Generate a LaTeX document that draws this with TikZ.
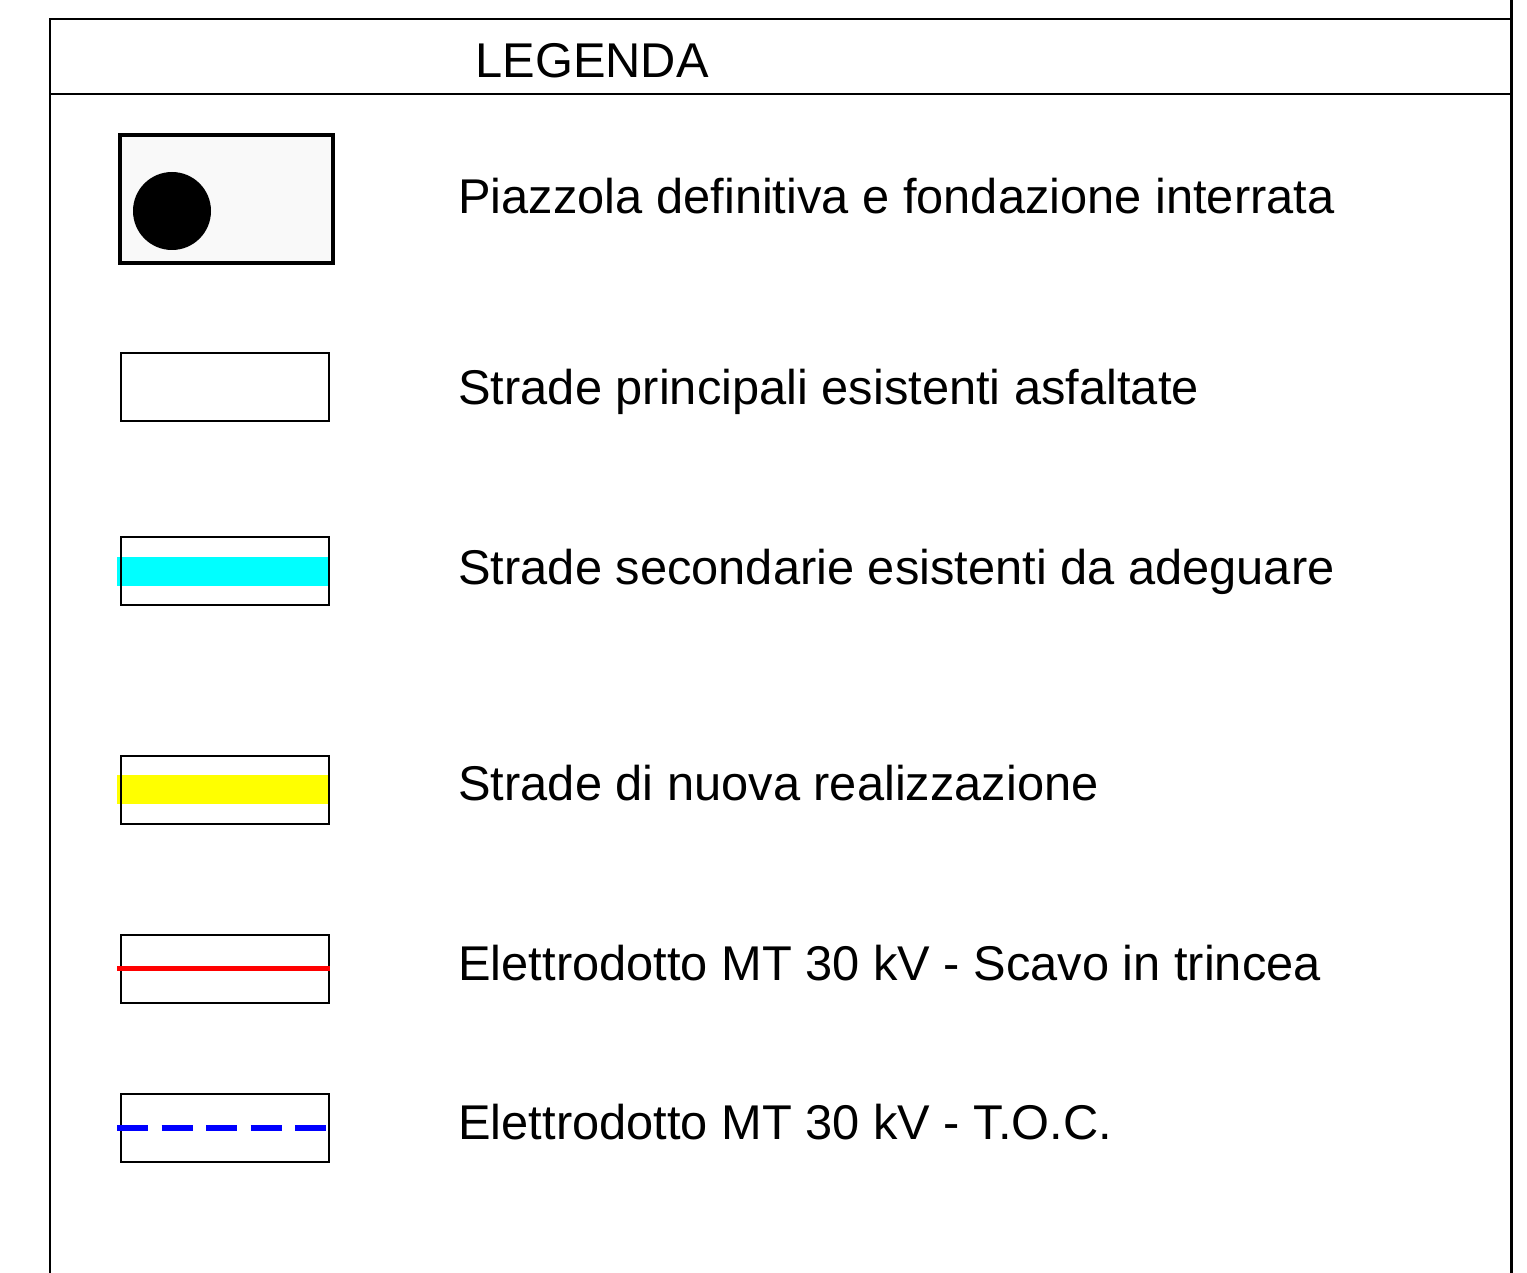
\documentclass[tikz,border=0pt]{standalone}
\usepackage{fontspec}
\setmainfont{Liberation Sans}
\usepackage{xcolor}
\usetikzlibrary{positioning,backgrounds}
\definecolor{roadcyan}{RGB}{0,255,255}
\definecolor{roadyellow}{RGB}{255,255,0}
\definecolor{padgray}{RGB}{249,249,249}

\begin{document}
\begin{tikzpicture}[x=0.5pt, y=-0.5pt,
    symbox/.style={draw, line width=1pt, inner sep=0pt, minimum width=104pt, minimum height=34pt},
    legtext/.style={anchor=base west, inner sep=0pt, font=\fontsize{24.4}{29}\selectfont}]
    \useasboundingbox (0,0) rectangle (1527,1273);

    % Frame and header
    \draw[line width=1pt] (50,1273) -- (50,19) -- (1511,19);
    \draw[line width=1.5pt] (1511,0) -- (1511,1273);
    \draw[line width=1pt] (50,94) -- (1511,94);
    \node[anchor=base, inner sep=0pt, font=\fontsize{24.4}{29}\selectfont] (title) at (592,78) {LEGENDA};

    % Piazzola
    \node[draw, line width=2pt, fill=padgray, inner sep=0pt, minimum width=106.5pt, minimum height=64pt] (pad) at (226.5,199) {};
    \fill (172,211) circle (19.5pt);
    \node[legtext] (padtext) at (458,214) {Piazzola definitiva e fondazione interrata};

    % Strade principali
    \node[symbox] (main) at (225,387) {};
    \node[legtext] (maintext) at (458,405) {Strade principali esistenti asfaltate};

    % Strade secondarie
    \node[symbox] (sec) at (225,571) {};
    \begin{scope}[on background layer]
        \fill[roadcyan] ([xshift=-1.5pt, yshift=7.25pt]sec.west) rectangle ([yshift=-7.25pt]sec.east);
    \end{scope}
    \node[legtext] (sectext) at (458,584) {Strade secondarie esistenti da adeguare};

    % Strade nuove
    \node[symbox] (new) at (225,789.5) {};
    \begin{scope}[on background layer]
        \fill[roadyellow] ([xshift=-1.5pt, yshift=7.25pt]new.west) rectangle ([yshift=-7.25pt]new.east);
    \end{scope}
    \node[legtext] (newtext) at (458,800) {Strade di nuova realizzazione};

    % Elettrodotto - trincea
    \node[symbox] (trench) at (225,968.5) {};
    \draw[red, line width=2.6pt] ([xshift=-1.5pt]trench.west) -- (trench.east);
    \node[legtext] (trenchtext) at (458,980) {Elettrodotto MT 30 kV - Scavo in trincea};

    % Elettrodotto - TOC
    \node[symbox] (toc) at (225,1128) {};
    \draw[blue, line width=2.6pt, dash pattern=on 15.5pt off 6.75pt] ([xshift=-1.5pt]toc.west) -- (toc.east);
    \node[legtext] (toctext) at (458,1139) {Elettrodotto MT 30 kV - T.O.C.};
\end{tikzpicture}
\end{document}
